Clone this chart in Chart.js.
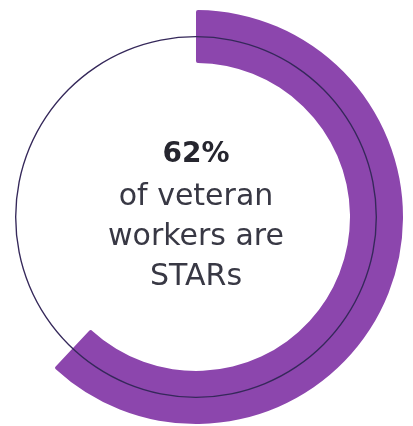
<!DOCTYPE html>
<html>
<head>
<meta charset="utf-8">
<script src="https://cdn.jsdelivr.net/npm/chart.js@4.4.1/dist/chart.umd.min.js"></script>
<style>
  html, body { margin: 0; padding: 0; background: #ffffff; overflow: hidden; }
  #wrap { position: relative; width: 413px; height: 426px; }
  #wrap canvas { position: absolute; left: 0; top: 0; }
  .lbl { position: absolute; left: 96px; width: 200px; text-align: center; white-space: nowrap;
         font-family: "DejaVu Sans", sans-serif; line-height: 1; color: #383844; }
  #l0 { top: 139px; font-size: 28px; font-weight: bold; color: #26262f; }
  #l1 { top: 180px; font-size: 30px; }
  #l2 { top: 220px; font-size: 30px; }
  #l3 { top: 260px; font-size: 30px; }
</style>
</head>
<body>
<div id="wrap">
  <canvas id="arc" width="413" height="426"></canvas>
  <canvas id="ring" width="413" height="426"></canvas>
  <div class="lbl" id="l0"></div>
  <div class="lbl" id="l1"></div>
  <div class="lbl" id="l2"></div>
  <div class="lbl" id="l3"></div>
</div>
<script>
// ---- data ----
const categories = ["STARs", "Other veteran workers"];
const shareValues = [62, 38];
const outlineValues = [100];
const centerLines = ["62%", "of veteran", "workers are", "STARs"];

// ---- text ----
centerLines.forEach((t, i) => { document.getElementById("l" + i).textContent = t; });

const common = {
  responsive: false,
  animation: false,
  events: [],
  rotation: 0,
  circumference: 360,
  layout: { padding: { left: 0, right: 21, top: 8, bottom: 0 } },
  plugins: { legend: { display: false }, tooltip: { enabled: false }, title: { display: false } }
};

new Chart(document.getElementById("arc"), {
  type: "doughnut",
  data: {
    labels: categories,
    datasets: [{
      data: shareValues,
      backgroundColor: ["#8c46ad", "rgba(0,0,0,0)"],
      borderWidth: 0,
      borderRadius: 2,
      clip: false
    }]
  },
  options: Object.assign({}, common, { radius: 207, cutout: "74.4%" })
});

new Chart(document.getElementById("ring"), {
  type: "doughnut",
  data: {
    labels: ["outline"],
    datasets: [{
      data: outlineValues,
      backgroundColor: ["#35285a"],
      borderWidth: 0,
      clip: false
    }]
  },
  options: Object.assign({}, common, { radius: 181, cutout: "99.25%" })
});
</script>
</body>
</html>
